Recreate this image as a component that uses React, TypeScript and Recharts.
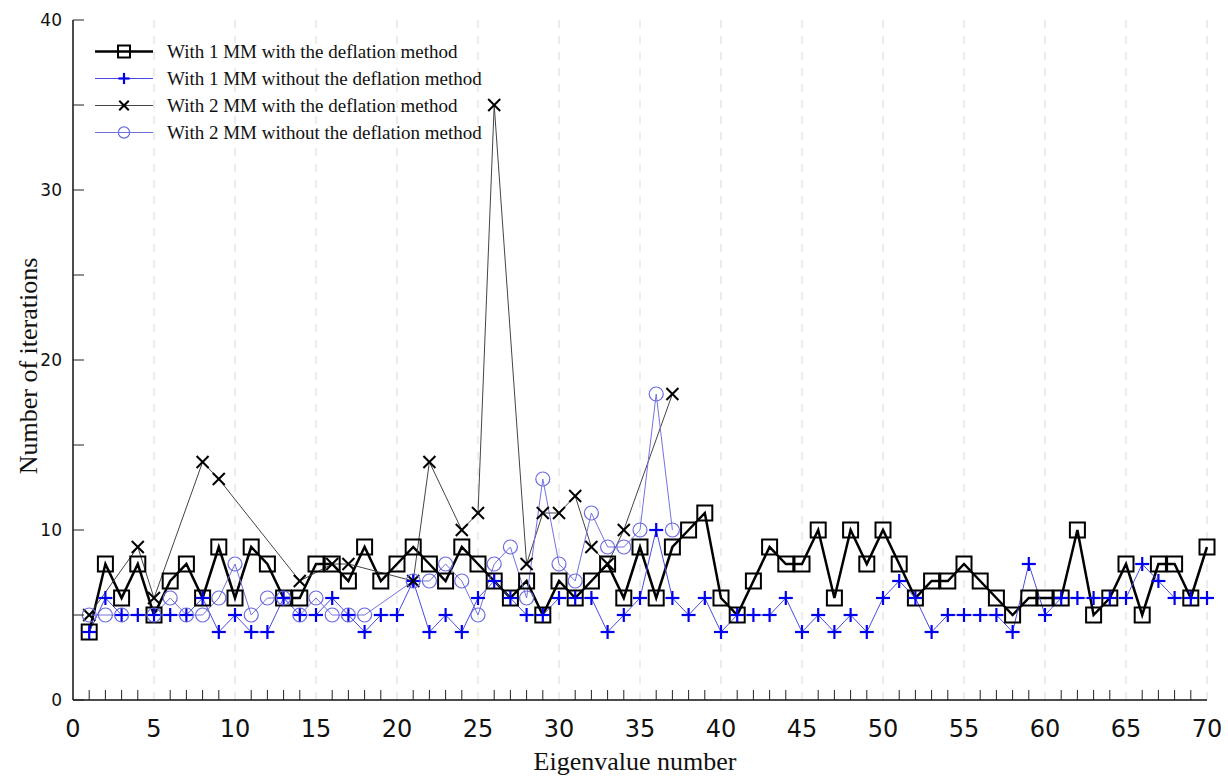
import React from "react";
import { LineChart, Line, XAxis, YAxis, Legend, Label, ReferenceLine } from "recharts";

// eigenvalue index for the two 1 MM runs
const eigenNumbers = [
  1, 2, 3, 4, 5, 6, 7, 8, 9, 10, 11, 12, 13, 14, 15, 16, 17, 18, 19, 20,
  21, 22, 23, 24, 25, 26, 27, 28, 29, 30, 31, 32, 33, 34, 35, 36, 37, 38, 39, 40,
  41, 42, 43, 44, 45, 46, 47, 48, 49, 50, 51, 52, 53, 54, 55, 56, 57, 58, 59, 60,
  61, 62, 63, 64, 65, 66, 67, 68, 69, 70,
];
const oneMmDeflation = [
  4, 8, 6, 8, 5, 7, 8, 6, 9, 6, 9, 8, 6, 6, 8, 8, 7, 9, 7, 8,
  9, 8, 7, 9, 8, 7, 6, 7, 5, 7, 6, 7, 8, 6, 9, 6, 9, 10, 11, 6,
  5, 7, 9, 8, 8, 10, 6, 10, 8, 10, 8, 6, 7, 7, 8, 7, 6, 5, 6, 6,
  6, 10, 5, 6, 8, 5, 8, 8, 6, 9,
];
const oneMmNoDeflation = [
  4, 6, 5, 5, 5, 5, 5, 6, 4, 5, 4, 4, 6, 5, 5, 6, 5, 4, 5, 5,
  7, 4, 5, 4, 6, 7, 6, 5, 5, 6, 6, 6, 4, 5, 6, 10, 6, 5, 6, 4,
  5, 5, 5, 6, 4, 5, 4, 5, 4, 6, 7, 6, 4, 5, 5, 5, 5, 4, 8, 5,
  6, 6, 6, 6, 6, 8, 7, 6, 6, 6,
];
const twoMmDeflationX = [1, 4, 5, 8, 9, 14, 16, 17, 21, 22, 24, 25, 26, 28, 29, 30, 31, 32, 33, 34, 37];
const twoMmDeflation = [5, 9, 6, 14, 13, 7, 8, 8, 7, 14, 10, 11, 35, 8, 11, 11, 12, 9, 8, 10, 18];
const twoMmNoDeflationX = [
  1, 2, 3, 5, 6, 7, 8, 9, 10, 11, 12, 13, 14, 15, 16, 17, 18,
  21, 22, 23, 24, 25, 26, 27, 28, 29, 30, 31, 32, 33, 34, 35, 36, 37,
];
const twoMmNoDeflation = [
  5, 5, 5, 5, 6, 5, 5, 6, 8, 5, 6, 6, 5, 6, 5, 5, 5,
  7, 7, 8, 7, 5, 8, 9, 6, 13, 8, 7, 11, 9, 9, 10, 18, 10,
];

// every integer gets a small tick, multiples of 5 get a label and a grid line
const xTicks = [
  0, 1, 2, 3, 4, 5, 6, 7, 8, 9, 10, 11, 12, 13, 14, 15, 16, 17, 18, 19, 20,
  21, 22, 23, 24, 25, 26, 27, 28, 29, 30, 31, 32, 33, 34, 35, 36, 37, 38, 39, 40,
  41, 42, 43, 44, 45, 46, 47, 48, 49, 50, 51, 52, 53, 54, 55, 56, 57, 58, 59, 60,
  61, 62, 63, 64, 65, 66, 67, 68, 69, 70,
];
const xGridLines = [5, 10, 15, 20, 25, 30, 35, 40, 45, 50, 55, 60, 65, 70];
const yTicks = [0, 5, 10, 15, 20, 25, 30, 35, 40];

const SERIF = "'Liberation Serif', 'Times New Roman', serif";
const SANS = "'DejaVu Sans', Verdana, sans-serif";

const toPoints = (xs: number[], ys: number[]) => xs.map((x, i) => ({ x, y: ys[i] }));

const squareMark = (cx: number, cy: number, s = 1) => (
  <rect x={cx - 7.5 * s} y={cy - 7.5 * s} width={15 * s} height={15 * s} fill="none" stroke="#000" strokeWidth={2} />
);
const plusMark = (cx: number, cy: number, s = 1) => (
  <g stroke="#0000ee" strokeWidth={2.2}>
    <line x1={cx - 7 * s} x2={cx + 7 * s} y1={cy} y2={cy} />
    <line x1={cx} x2={cx} y1={cy - 7 * s} y2={cy + 7 * s} />
  </g>
);
const crossMark = (cx: number, cy: number, s = 1) => (
  <g stroke="#000" strokeWidth={2}>
    <line x1={cx - 6 * s} x2={cx + 6 * s} y1={cy - 6 * s} y2={cy + 6 * s} />
    <line x1={cx - 6 * s} x2={cx + 6 * s} y1={cy + 6 * s} y2={cy - 6 * s} />
  </g>
);
const circleMark = (cx: number, cy: number, s = 1) => (
  <circle cx={cx} cy={cy} r={7 * s} fill="none" stroke="#6b6be0" strokeWidth={1.2} />
);

const series = [
  { name: "With 1 MM with the deflation method", data: toPoints(eigenNumbers, oneMmDeflation), color: "#000", width: 2.5, mark: squareMark },
  { name: "With 1 MM without the deflation method", data: toPoints(eigenNumbers, oneMmNoDeflation), color: "#4a4ae0", width: 1, mark: plusMark },
  { name: "With 2 MM with the deflation method", data: toPoints(twoMmDeflationX, twoMmDeflation), color: "#444", width: 1, mark: crossMark },
  { name: "With 2 MM without the deflation method", data: toPoints(twoMmNoDeflationX, twoMmNoDeflation), color: "#7373e0", width: 1, mark: circleMark },
];

const renderLegend = () => (
  <div style={{ fontFamily: SERIF, fontSize: 19, color: "#111" }}>
    {series.map((s) => (
      <div key={s.name} style={{ display: "flex", alignItems: "center", height: 27 }}>
        <svg width={58} height={27}>
          <line x1={0} x2={58} y1={13.5} y2={13.5} stroke={s.color} strokeWidth={s.width} />
          {s.mark(29, 13.5, 0.8)}
        </svg>
        <span style={{ marginLeft: 14, whiteSpace: "nowrap" }}>{s.name}</span>
      </div>
    ))}
  </div>
);

// tickSize/tickMargin are 0, so x,y arrive on the axis line itself
const XTick = (p: any) => {
  const v = p.payload.value;
  const major = v % 5 === 0;
  return (
    <g>
      {!major && <line x1={p.x} x2={p.x} y1={p.y} y2={p.y - 10} stroke="#222" strokeWidth={1} />}
      {major && (
        <text x={p.x} y={p.y + 37} textAnchor="middle" fontFamily={SANS} fontSize={24} fill="#111">
          {v}
        </text>
      )}
    </g>
  );
};

const YTick = (p: any) => {
  const v = p.payload.value;
  return (
    <g>
      <line x1={p.x} x2={p.x + 11} y1={p.y} y2={p.y} stroke="#222" strokeWidth={1} />
      {v % 10 === 0 && (
        <text x={p.x - 11} y={p.y + 6} textAnchor="end" fontFamily={SANS} fontSize={17} fill="#111">
          {v}
        </text>
      )}
    </g>
  );
};

export default function App() {
  return (
    <div style={{ width: 1228, height: 776, background: "#fff" }}>
      <style>{"body{margin:0}"}</style>
      <LineChart width={1228} height={776} margin={{ top: 20, right: 21, bottom: 16, left: 13 }}>
        {xGridLines.map((g) => (
          <ReferenceLine key={`g${g}`} x={g} stroke="#d9d9d9" strokeDasharray="8 8" strokeWidth={1} />
        ))}
        <XAxis
          dataKey="x"
          type="number"
          domain={[0, 70]}
          ticks={xTicks}
          interval={0}
          height={60}
          tickSize={0}
          tickMargin={0}
          tickLine={false}
          tick={<XTick />}
          axisLine={{ stroke: "#111", strokeWidth: 1.5 }}
        >
          <Label
            content={(p: any) => {
              const vb = p.viewBox || { x: 73, y: 700, width: 1134, height: 60 };
              return (
                <text x={vb.x + vb.width / 2 - 5} y={vb.y + 70} textAnchor="middle" fontFamily={SERIF} fontSize={26} fill="#111">
                  Eigenvalue number
                </text>
              );
            }}
          />
        </XAxis>
        <YAxis
          type="number"
          domain={[0, 40]}
          ticks={yTicks}
          interval={0}
          width={60}
          tickSize={0}
          tickMargin={0}
          tickLine={false}
          tick={<YTick />}
          axisLine={{ stroke: "#111", strokeWidth: 1.5 }}
        >
          <Label
            content={(p: any) => {
              const vb = p.viewBox || { x: 13, y: 20, width: 60, height: 680 };
              const tx = vb.x + 24;
              const ty = vb.y + vb.height / 2 + 6;
              return (
                <text x={tx} y={ty} textAnchor="middle" transform={`rotate(-90 ${tx} ${ty})`} fontFamily={SERIF} fontSize={26} fill="#111">
                  Number of iterations
                </text>
              );
            }}
          />
        </YAxis>
        <Legend
          layout="vertical"
          align="center"
          verticalAlign="middle"
          content={renderLegend}
          wrapperStyle={{ left: 95, top: 38, width: 420, height: 110 }}
        />
        {series.map((s, si) => (
          <Line
            key={s.name}
            data={s.data}
            dataKey="y"
            type="linear"
            stroke={s.color}
            strokeWidth={s.width}
            isAnimationActive={false}
            legendType="none"
            dot={(p: any) => <g key={`d${si}-${p.index}`}>{s.mark(p.cx, p.cy)}</g>}
            activeDot={false}
          />
        ))}
      </LineChart>
    </div>
  );
}
